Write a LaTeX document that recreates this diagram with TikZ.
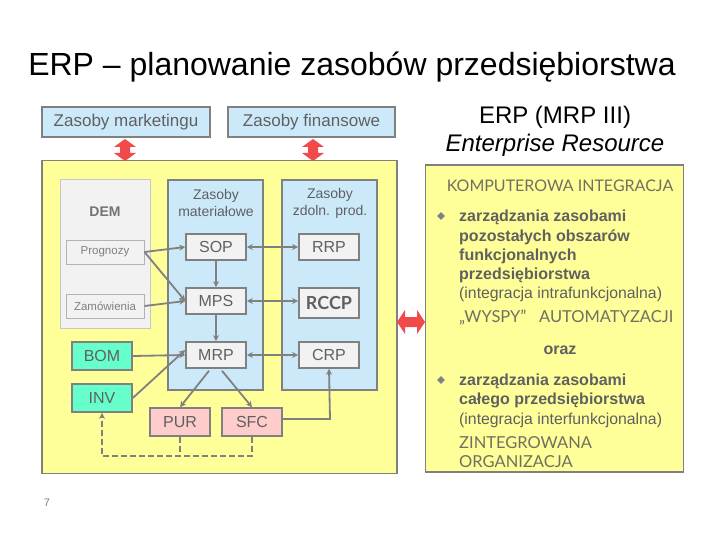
\documentclass[tikz,border=0pt]{standalone}
\usepackage{fontspec}
\setmainfont{Liberation Sans}
\newfontfamily\candfont{Lato}
\usetikzlibrary{arrows.meta,shapes.geometric}
\definecolor{bgray}{HTML}{808080}
\definecolor{tgray}{HTML}{606060}
\definecolor{lblue}{HTML}{CCE9FA}
\definecolor{lyel}{HTML}{FFFF99}
\definecolor{lgr}{HTML}{F2F2F2}
\definecolor{teal1}{HTML}{66FFCC}
\definecolor{pink1}{HTML}{FFCCCC}
\definecolor{redA}{HTML}{F24A4A}
\definecolor{olive}{HTML}{707060}
\tikzset{
  bx/.style={draw=bgray, line width=1.6pt, text=tgray, inner sep=0pt, font=\fontsize{16}{18}\selectfont},
  inbox/.style={bx, fill=lgr},
  col/.style={draw=bgray, line width=1.6pt, fill=lblue, inner sep=0pt},
  con/.style={draw=bgray, line width=1.8pt, -{Stealth[length=6pt,width=6pt]}},
  dcon/.style={draw=bgray, line width=1.8pt, {Stealth[length=6pt,width=6pt]}-{Stealth[length=6pt,width=6pt]}},
  redarrow/.style={fill=redA, draw=none},
  rtxt/.style={anchor=west, inner sep=0pt, text=tgray, font=\fontsize{16}{18}\selectfont\bfseries},
  rtxtn/.style={anchor=west, inner sep=0pt, text=tgray, font=\fontsize{15.8}{18}\selectfont},
  ctxt/.style={anchor=west, inner sep=0pt, text=olive, font=\candfont\fontsize{16.5}{18}\selectfont},
}
\begin{document}
\begin{tikzpicture}[x=1pt,y=-1pt]
\useasboundingbox (0,0) rectangle (720,540);
\fill[white] (0,0) rectangle (720,540);
% title
\node (title) at (352,67) {\fontsize{32}{36}\selectfont ERP -- planowanie zasobów przedsiębiorstwa};
% top boxes
\node[bx, fill=lblue, minimum width=168pt, minimum height=30pt, font=\fontsize{17}{19}\selectfont] (mkt) at (126,122) {Zasoby marketingu};
\node[bx, fill=lblue, minimum width=167pt, minimum height=30pt, font=\fontsize{17}{19}\selectfont] (fin) at (311.5,122) {Zasoby finansowe};
% main yellow
\node[draw=bgray, line width=1.6pt, fill=lyel, minimum width=355pt, minimum height=313pt, inner sep=0pt] (main) at (219.5,317) {};
% red vertical arrows
\foreach \cx/\nm in {125/ra, 313/rb}{
  \fill[redarrow] (\cx,139) -- (\cx+11,147) -- (\cx+5,147) -- (\cx+5,153) -- (\cx+11,153) -- (\cx,161) -- (\cx-11,153) -- (\cx-5,153) -- (\cx-5,147) -- (\cx-11,147) -- cycle;
}
% DEM
\node[draw=black!22, line width=1pt, fill=lgr, minimum width=90pt, minimum height=148pt, inner sep=0pt] (dem) at (105,254) {};
\node[text=black!55, font=\fontsize{14}{16}\selectfont\bfseries] (demt) at (105,212) {DEM};
\node[draw=black!30, line width=1pt, fill=lgr, text=black!50, font=\fontsize{11.5}{13}\selectfont, minimum width=78pt, minimum height=24pt, inner sep=0pt] (prog) at (105,252) {Prognozy};
\node[draw=black!30, line width=1pt, fill=lgr, text=black!50, font=\fontsize{11.5}{13}\selectfont, minimum width=78pt, minimum height=24pt, inner sep=0pt] (zam) at (105,306) {Zamówienia};
% columns
\node[col, minimum width=95pt, minimum height=210pt] (mat) at (215.5,285) {};
\node[col, minimum width=95pt, minimum height=210pt] (cap) at (329.5,285) {};
\node[align=center, text=tgray, font=\fontsize{14}{17}\selectfont] (matt) at (216,203) {Zasoby\\materiałowe};
\node[align=center, text=tgray, font=\fontsize{14}{17}\selectfont] (capt) at (330,203) {Zasoby\\zdoln. prod.};
% inner boxes
\node[inbox, minimum width=60pt, minimum height=26pt] (sop) at (216,247) {SOP};
\node[inbox, minimum width=60pt, minimum height=26pt] (rrp) at (329,247) {RRP};
\node[inbox, minimum width=60pt, minimum height=26pt] (mps) at (216,301) {MPS};
\node[inbox, minimum width=60pt, minimum height=30pt, font=\candfont\fontsize{18}{20}\selectfont\bfseries] (rccp) at (329,303) {RCCP};
\node[inbox, minimum width=60pt, minimum height=26pt] (mrp) at (216,355) {MRP};
\node[inbox, minimum width=60pt, minimum height=26pt] (crp) at (329,355) {CRP};
\node[bx, fill=teal1, minimum width=60pt, minimum height=28pt] (bom) at (102,356) {BOM};
\node[bx, fill=teal1, minimum width=60pt, minimum height=28pt] (inv) at (102,398) {INV};
\node[bx, fill=pink1, minimum width=60pt, minimum height=28pt] (pur) at (180,422) {PUR};
\node[bx, fill=pink1, minimum width=60pt, minimum height=28pt] (sfc) at (252,422) {SFC};
% connectors
\draw[con] (prog.east) -- (sop.west);
\draw[con] (prog.east) -- (mps.west);
\draw[con] (zam.east) -- (mps.west);
\draw[dcon] (sop.east) -- (rrp.west);
\draw[dcon] (mps.east) -- (rccp.west|-mps.east);
\draw[dcon] (mrp.east) -- (crp.west);
\draw[con] (sop.south) -- (mps.north);
\draw[con] (mps.south) -- (mrp.north);
\draw[con] (bom.east) -- (mrp.west);
\draw[con] (inv.east) -- ([yshift=5pt]mrp.west);
\draw[con] (mrp.south -| 209,0) ++(0,2) -- (pur.north);
\draw[con] (mrp.south -| 222,0) ++(0,2) -- (sfc.north);
\coordinate (sc) at (330,419);
\draw[con] (sfc.east |- sc) -- (sc) -- (crp.south);
\coordinate (d1) at (102,456);
\coordinate (d2) at (252,456);
\draw[con, dashed, dash pattern=on 6pt off 3pt] (sfc.south) -- (d2) -- (d1) -- (inv.south);
\draw[draw=bgray, line width=1.8pt, dashed, dash pattern=on 6pt off 3pt] (pur.south) -- (pur.south |- d1);
% red horizontal arrow
\fill[redarrow] (397,322) -- (405,310) -- (405,317) -- (417,317) -- (417,310) -- (425,322) -- (417,334) -- (417,327) -- (405,327) -- (405,334) -- cycle;
% right panel
\node (erp) at (555,117) {\fontsize{24}{27}\selectfont ERP (MRP III)};
\node (ent) at (555,145) {\fontsize{24}{27}\selectfont\itshape Enterprise Resource};
\node[draw=bgray, line width=1.6pt, fill=lyel, minimum width=258pt, minimum height=307pt, inner sep=0pt] (rbox) at (554.5,318.5) {};
\node[text=olive, font=\candfont\fontsize{16}{18}\selectfont] (komp) at (560,186) {KOMPUTEROWA INTEGRACJA};
\node[diamond, fill=bgray, inner sep=0pt, minimum size=8pt] (b1) at (441,216) {};
\node[rtxt] (l1) at (459,217) {zarządzania zasobami};
\node[rtxt] (l2) at (459,237) {pozostałych obszarów};
\node[rtxt] (l3) at (459,256) {funkcjonalnych};
\node[rtxt] (l4) at (459,275) {przedsiębiorstwa};
\node[rtxtn] (l5) at (459,294) {(integracja intrafunkcjonalna)};
\node[ctxt] (l6) at (459,318) {„WYSPY”\ \ \ AUTOMATYZACJI};
\node[rtxt, anchor=center] (oraz) at (560,350) {oraz};
\node[diamond, fill=bgray, inner sep=0pt, minimum size=8pt] (b2) at (441,380) {};
\node[rtxt] (m1) at (459,381) {zarządzania zasobami};
\node[rtxt] (m2) at (459,400) {całego przedsiębiorstwa};
\node[rtxtn] (m3) at (459,420) {(integracja interfunkcjonalna)};
\node[ctxt] (m4) at (459,443) {ZINTEGROWANA};
\node[ctxt] (m5) at (459,462) {ORGANIZACJA};
\node[text=black!50, font=\fontsize{11}{13}\selectfont] (pg) at (47,503) {7};
\end{tikzpicture}
\end{document}
